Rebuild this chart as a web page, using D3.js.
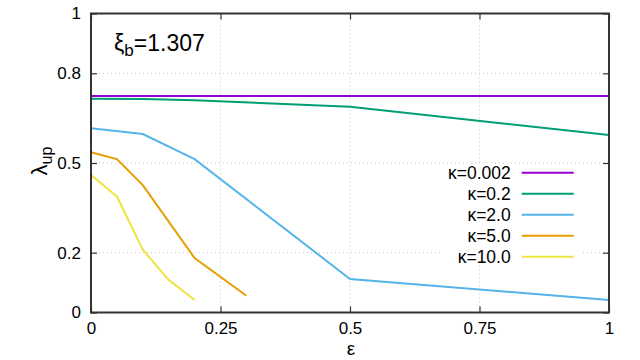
<!DOCTYPE html>
<html>
<head>
  <meta charset="utf-8">
  <script src="https://d3js.org/d3.v7.min.js"></script>
  <style>
    body { margin: 0; background: #fff; }
    text { font-family: "Liberation Sans", Arial, sans-serif; fill: #000; }
    .grid line { stroke: #c8c8c8; stroke-dasharray: 1,3; stroke-width: 1; }
  </style>
</head>
<body>
<svg id="plot" width="640" height="360"></svg>
<script>
// data
const kappaLabels = ["κ=0.002", "κ=0.2", "κ=2.0", "κ=5.0", "κ=10.0"];
const colors = ["#9400d3", "#009e73", "#56b4e9", "#e69f00", "#f0e442"];
const epsK0002 = [0, 1];
const lamK0002 = [0.724, 0.724];
const epsK02 = [0, 0.1, 0.2, 0.5, 1];
const lamK02 = [0.715, 0.714, 0.710, 0.688, 0.594];
const epsK2 = [0, 0.1, 0.2, 0.5, 1];
const lamK2 = [0.616, 0.597, 0.513, 0.112, 0.042];
const epsK5 = [0, 0.05, 0.1, 0.2, 0.3];
const lamK5 = [0.536, 0.513, 0.426, 0.182, 0.056];
const epsK10 = [0, 0.05, 0.1, 0.15, 0.2];
const lamK10 = [0.46, 0.388, 0.21, 0.109, 0.042];
const xTicks = [0, 0.25, 0.5, 0.75, 1];
const yTicks = [0, 0.2, 0.5, 0.8, 1];

const series = [
  [epsK0002, lamK0002], [epsK02, lamK02], [epsK2, lamK2], [epsK5, lamK5], [epsK10, lamK10]
].map((s, i) => ({ label: kappaLabels[i], color: colors[i],
                   pts: s[0].map((e, j) => ({ x: e, y: s[1][j] })) }));

const plot = d3.select("svg#plot");
const margin = { top: 13.5, right: 31, bottom: 47.5, left: 91 };
const chartWidth = 640 - margin.left - margin.right;
const chartHeight = 360 - margin.top - margin.bottom;
const xScale = d3.scaleLinear().domain([0, 1]).range([0, chartWidth]);
const yScale = d3.scaleLinear().domain([0, 1]).range([chartHeight, 0]);
const chart = plot.append("g").attr("transform", "translate(" + margin.left + "," + margin.top + ")");

// gridlines
chart.append("g").attr("class", "grid")
     .selectAll("line").data(xTicks.slice(1, -1)).join("line")
     .attr("x1", d => xScale(d)).attr("x2", d => xScale(d))
     .attr("y1", 0).attr("y2", chartHeight);
chart.append("g").attr("class", "grid")
     .selectAll("line").data(yTicks.slice(1, -1)).join("line")
     .attr("x1", 0).attr("x2", chartWidth)
     .attr("y1", d => yScale(d)).attr("y2", d => yScale(d));

// legend box hides grid behind it
chart.append("rect").attr("x", 440 - margin.left).attr("y", 165 - margin.top)
     .attr("width", 143).attr("height", 100).attr("fill", "#fff");

// axes with mirrored inward ticks
const tickOpts = g => g.call(g => g.select(".domain").remove())
                      .selectAll(".tick line").attr("stroke", "#333").attr("stroke-width", 1.2);
chart.append("g").attr("transform", "translate(0," + chartHeight + ")")
     .call(d3.axisBottom(xScale).tickValues(xTicks).tickSize(-6).tickPadding(9).tickFormat(d3.format("")))
     .call(tickOpts).selectAll("text").attr("font-size", 17);
chart.append("g")
     .call(d3.axisTop(xScale).tickValues(xTicks).tickSize(-6).tickFormat(""))
     .call(tickOpts);
chart.append("g")
     .call(d3.axisLeft(yScale).tickValues(yTicks).tickSize(-6).tickPadding(10).tickFormat(d3.format("")))
     .call(tickOpts).selectAll("text").attr("font-size", 17);
chart.append("g").attr("transform", "translate(" + chartWidth + ",0)")
     .call(d3.axisRight(yScale).tickValues(yTicks).tickSize(-6).tickFormat(""))
     .call(tickOpts);

// lines
const line = d3.line().x(d => xScale(d.x)).y(d => yScale(d.y));
chart.selectAll("path.series").data(series).join("path").attr("class", "series")
     .attr("d", d => line(d.pts))
     .attr("fill", "none").attr("stroke", d => d.color).attr("stroke-width", 2);

// frame
chart.append("rect").attr("width", chartWidth).attr("height", chartHeight)
     .attr("fill", "none").attr("stroke", "#333").attr("stroke-width", 2);

// legend
const legend = chart.append("g").attr("transform", "translate(" + (510.7 - margin.left) + "," + (172.7 - margin.top) + ")");
const entry = legend.selectAll("g").data(series).join("g")
     .attr("transform", (d, i) => "translate(0," + i * 21 + ")");
entry.append("text").attr("text-anchor", "end").attr("dy", "0.35em")
     .attr("font-size", 17.5).text(d => d.label);
entry.append("line").attr("x1", 11).attr("x2", 63)
     .attr("stroke", d => d.color).attr("stroke-width", 2);

// annotation and labels
const title = plot.append("text").attr("x", 114).attr("y", 51).attr("font-size", 23);
title.append("tspan").text("ξ");
title.append("tspan").attr("font-size", 17).attr("dy", 5).text("b");
title.append("tspan").attr("dy", -5).text("=1.307");

plot.append("text").attr("x", 351).attr("y", 355).attr("text-anchor", "middle")
    .attr("font-size", 19).text("ε");
const ylab = plot.append("text").attr("transform", "translate(47,161) rotate(-90)")
    .attr("text-anchor", "middle").attr("font-size", 22);
ylab.append("tspan").text("λ");
ylab.append("tspan").attr("font-size", 16).attr("dy", 5).text("up");
</script>
</body>
</html>
